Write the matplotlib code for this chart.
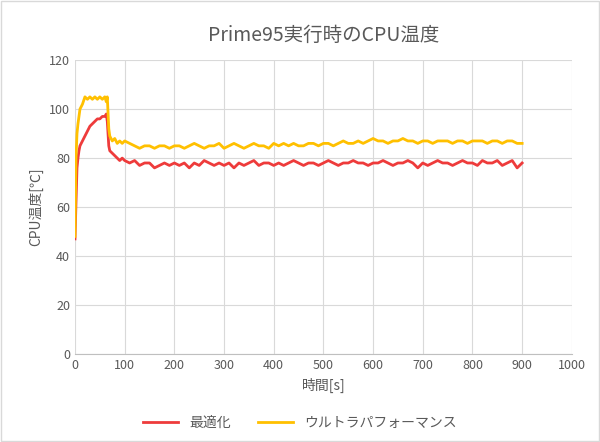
import matplotlib.pyplot as plt

plt.rcParams['font.family'] = 'Noto Sans CJK JP'

# time [s]
t_early = [0, 2, 4, 6, 8, 10, 15, 20, 25, 30, 35, 40, 45, 50, 55, 60, 63, 65, 68, 70, 75, 80, 85, 90, 95, 100]
t_late = list(range(110, 910, 10))
time = t_early + t_late

opt_early = [47, 62, 76, 80, 83, 85, 87, 89, 91, 93, 94, 95, 96, 96, 97, 97, 98, 95, 85, 83, 82, 81, 80, 79, 80, 79]
opt_late = [78, 79, 77, 78, 78, 76, 77, 78, 77, 78, 77, 78, 76, 78, 77, 79, 78, 77, 78, 77,
            78, 76, 78, 77, 78, 79, 77, 78, 78, 77, 78, 77, 78, 79, 78, 77, 78, 78, 77, 78,
            79, 78, 77, 78, 78, 79, 78, 78, 77, 78, 78, 79, 78, 77, 78, 78, 79, 78, 76, 78,
            77, 78, 79, 78, 78, 77, 78, 79, 78, 78, 77, 79, 78, 78, 79, 77, 78, 79, 76, 78]
optimized = opt_early + opt_late

ultra_early = [48, 80, 90, 94, 97, 100, 102, 105, 104, 105, 104, 105, 104, 105, 104, 105, 103, 105, 92, 89, 87, 88, 86, 87, 86, 87]
ultra_late = [86, 85, 84, 85, 85, 84, 85, 85, 84, 85, 85, 84, 85, 86, 85, 84, 85, 85, 86, 84,
              85, 86, 85, 84, 85, 86, 85, 85, 84, 86, 85, 86, 85, 86, 85, 85, 86, 86, 85, 86,
              86, 85, 86, 87, 86, 86, 87, 86, 87, 88, 87, 87, 86, 87, 87, 88, 87, 87, 86, 87,
              87, 86, 87, 87, 87, 86, 87, 87, 86, 87, 87, 87, 86, 87, 87, 86, 87, 87, 86, 86]
ultra = ultra_early + ultra_late

fig = plt.figure(figsize=(6, 4.42), dpi=100)
ax = fig.add_axes([0.125, 0.199, 0.828, 0.665])

ax.plot(time, optimized, color='#EE3B3B', lw=2, label='最適化')
ax.plot(time, ultra, color='#FFC000', lw=2, label='ウルトラパフォーマンス')

ax.set_xlim(0, 1000)
ax.set_ylim(0, 120)
ax.set_xticks(range(0, 1001, 100))
ax.set_yticks(range(0, 121, 20))
ax.grid(axis='both', color='#D9D9D9', lw=0.8)
ax.set_axisbelow(True)
for s in ['top', 'right', 'left']:
    ax.spines[s].set_visible(False)
ax.spines['bottom'].set_color('#BFBFBF')
ax.tick_params(length=0, labelsize=9, colors='#595959')

ax.set_xlabel('時間[s]', fontsize=10, color='#595959')
ax.set_ylabel('CPU温度[℃]', fontsize=10, color='#595959')
ax.set_title('Prime95実行時のCPU温度', fontsize=14, color='#595959', pad=14)

fig.legend(loc='lower center', ncol=2, frameon=False, fontsize=10,
           bbox_to_anchor=(0.5, 0.0), labelcolor='#595959', handlelength=2.5)
fig.patches.append(plt.Rectangle((0.002, 0.002), 0.996, 0.996, transform=fig.transFigure,
                                 fill=False, edgecolor='#D9D9D9', lw=1))

fig.savefig('out.png')
